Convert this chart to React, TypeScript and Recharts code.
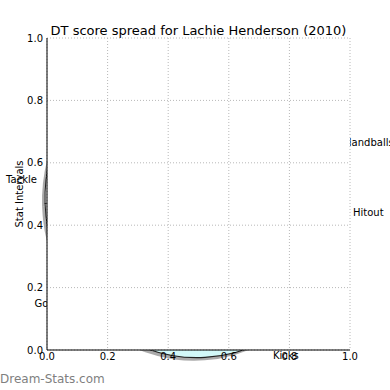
import React from 'react';
import { PieChart, Pie, Cell, ComposedChart, XAxis, YAxis, CartesianGrid } from 'recharts';

const chartTitle = 'DT score spread for Lachie Henderson (2010)';
const statNames = ['Marks', 'Tackle', 'Goals', 'Kicks', 'Hitout', 'Handballs', 'Frees'];
const statShares = [75, 17, 69, 92, 24, 26, 57];
const statColors = ['#e6e6ff', '#f4f4f4', '#ececec', '#d2f9f9', '#ffe8cc', '#e6ffe6', '#fff0f5'];
const axisTicks = [0, 0.2, 0.4, 0.6, 0.8, 1];

const pieData = statNames.map((name, i) => ({ name, value: statShares[i] }));
// rows only used to set up the 0..1 axes, nothing is plotted from them
const axisRows = axisTicks.map((t) => ({ x: t, y: t }));

const FONT = 'DejaVu Sans';
const RAD = Math.PI / 180;

const renderLabel = (p: any) => {
    const cos = Math.cos(-p.midAngle * RAD);
    const sin = Math.sin(-p.midAngle * RAD);
    // labels sit a little further out below the centre than at the sides
    const k = sin > 0.3 ? 1.1 : cos < 0 ? 1.06 : 1.03;
    const r = p.outerRadius * k;
    const x = p.cx + r * cos;
    const y = p.cy + r * sin;
    return (
        <text
            x={x}
            y={y}
            textAnchor={cos > 0 ? 'start' : 'end'}
            dominantBaseline="central"
            fontSize={10}
            fontFamily={FONT}
            fill="#000"
        >
            {p.name}
        </text>
    );
};

const tickStyle = { fill: '#000', fontSize: 10, fontFamily: FONT };

const App: React.FC = () => {
    return (
        <div style={{ position: 'absolute', left: 0, top: 0, width: 390, height: 390, fontFamily: FONT }}>
            {/* pie sits underneath, only the bits outside the axes box show */}
            <div style={{ position: 'absolute', left: 0, top: 0, transform: 'scaleY(1.05)', transformOrigin: '197px 198px' }}>
                <PieChart width={390} height={390} margin={{ top: 0, right: 0, bottom: 0, left: 0 }}>
                    <Pie
                        data={pieData}
                        dataKey="value"
                        cx={194}
                        cy={201}
                        outerRadius={152}
                        startAngle={90}
                        endAngle={450}
                        fill="#555"
                        fillOpacity={0.5}
                        stroke="none"
                        isAnimationActive={false}
                    />
                    <Pie
                        data={pieData}
                        dataKey="value"
                        cx={197}
                        cy={198}
                        outerRadius={152}
                        startAngle={90}
                        endAngle={450}
                        stroke="#222"
                        strokeWidth={1}
                        label={renderLabel}
                        labelLine={false}
                        isAnimationActive={false}
                    >
                        {pieData.map((d, i) => (
                            <Cell key={d.name} fill={statColors[i]} />
                        ))}
                    </Pie>
                </PieChart>
            </div>
            <div style={{ position: 'absolute', left: 0, top: 0 }}>
                <ComposedChart data={axisRows} width={390} height={390} margin={{ top: 38, right: 40, bottom: 0, left: 0 }}>
                    <CartesianGrid fill="#fff" stroke="#b8b8b8" strokeDasharray="1 2" />
                    <XAxis
                        type="number"
                        dataKey="x"
                        domain={[0, 1]}
                        ticks={axisTicks}
                        tickFormatter={(v: number) => v.toFixed(1)}
                        height={40}
                        axisLine={{ stroke: '#000' }}
                        tickLine={false}
                        tickSize={0}
                        tickMargin={3}
                        tick={tickStyle}
                    />
                    <YAxis
                        type="number"
                        dataKey="y"
                        domain={[0, 1]}
                        ticks={axisTicks}
                        tickFormatter={(v: number) => v.toFixed(1)}
                        width={47}
                        axisLine={{ stroke: '#000' }}
                        tickLine={false}
                        tickSize={0}
                        tickMargin={4}
                        tick={tickStyle}
                    />
                    <XAxis
                        xAxisId="top"
                        orientation="top"
                        type="number"
                        dataKey="x"
                        domain={[0, 1]}
                        height={0}
                        tick={false}
                        tickLine={false}
                        axisLine={{ stroke: '#000', strokeDasharray: '1 1' }}
                    />
                    <YAxis
                        yAxisId="right"
                        orientation="right"
                        type="number"
                        dataKey="y"
                        domain={[0, 1]}
                        width={0}
                        tick={false}
                        tickLine={false}
                        axisLine={{ stroke: '#000' }}
                    />
                    <text x={198.5} y={35} textAnchor="middle" fontSize={13} fontFamily={FONT} fill="#000">
                        {chartTitle}
                    </text>
                    <text
                        x={19}
                        y={194}
                        transform="rotate(-90 19 194)"
                        textAnchor="middle"
                        dominantBaseline="central"
                        fontSize={10}
                        fontFamily={FONT}
                        fill="#000"
                    >
                        Stat Intervals
                    </text>
                </ComposedChart>
            </div>
            <div style={{ position: 'absolute', left: 0, top: 372, fontSize: 12, color: '#7f7f7f', fontFamily: FONT, lineHeight: '14px' }}>
                Dream-Stats.com
            </div>
        </div>
    );
};

export default App;
